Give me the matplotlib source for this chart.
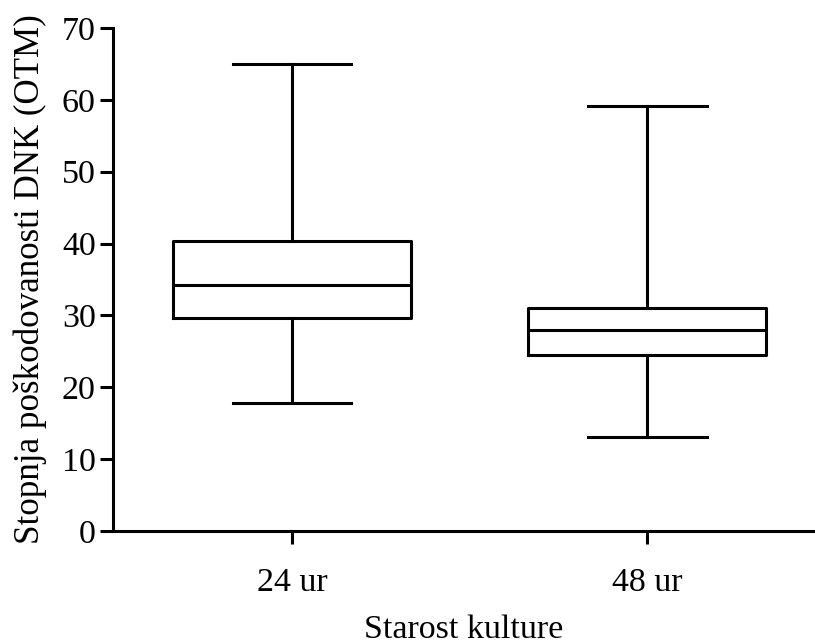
import matplotlib

matplotlib.use("Agg")
import matplotlib.pyplot as plt

# values
groups = ["24 ur", "48 ur"]
whisker_low = [17.8, 13.1]
q1 = [29.6, 24.5]
median = [34.2, 28.0]
q3 = [40.3, 31.0]
whisker_high = [65.0, 59.1]
yticks = [0, 10, 20, 30, 40, 50, 60, 70]

plt.rcParams["font.family"] = ["Liberation Serif", "DejaVu Serif"]

stats = []
for i, name in enumerate(groups):
    stats.append({
        "label": name,
        "whislo": whisker_low[i],
        "q1": q1[i],
        "med": median[i],
        "q3": q3[i],
        "whishi": whisker_high[i],
        "fliers": [],
    })

fig = plt.figure(figsize=(8.15, 6.44), dpi=100)
ax = fig.add_axes([0.1387, 0.1755, 0.8613, 0.781])

lw = 2.2
line = dict(color="black", linewidth=lw)
ax.bxp(stats, positions=[1, 2], widths=0.67, showfliers=False,
       boxprops=line, medianprops=line, whiskerprops=line, capprops=line)

ax.set_xlim(0.496, 2.473)
ax.set_ylim(0, 70)
ax.set_yticks(yticks)
ax.set_xticks([1, 2])
ax.set_xticklabels(groups)

for side in ("top", "right"):
    ax.spines[side].set_visible(False)
for side in ("left", "bottom"):
    ax.spines[side].set_linewidth(lw)

fs = 24.5
ax.tick_params(axis="both", direction="out", length=9.5, width=lw, labelsize=fs)
ax.tick_params(axis="y", pad=3)
ax.tick_params(axis="x", pad=17)

ax.set_ylabel("Stopnja poškodovanosti DNK (OTM)", fontsize=25.2, labelpad=11)
ax.set_xlabel("Starost kulture", fontsize=fs, labelpad=12)

fig.savefig("out.png", dpi=100)
